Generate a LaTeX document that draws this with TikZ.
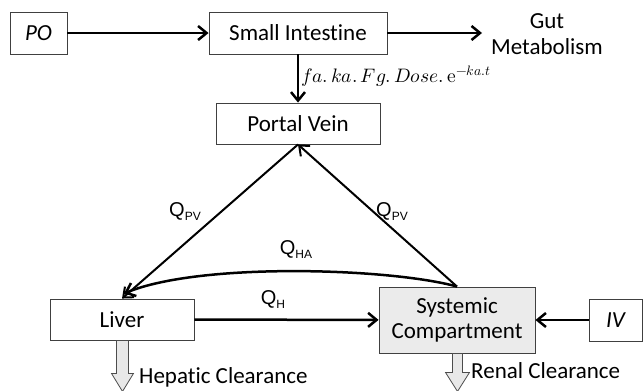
\documentclass[tikz,border=0pt]{standalone}
\usepackage{fontspec}
\usepackage{unicode-math}
\setmainfont{Carlito}[Ligatures=NoCommon]
\setmathfont{Latin Modern Math}
\newfontfamily\arialf{Liberation Sans}
\usetikzlibrary{arrows.meta,calc}
\newcommand{\qlab}[1]{{\arialf\fontsize{20}{22}\selectfont Q\raisebox{-4pt}{\fontsize{12}{12}\selectfont #1}}}
\begin{document}
\begin{tikzpicture}[x=1pt,y=-1pt,
  box/.style={draw=black!75, line width=0.9pt, fill=white, inner sep=0pt,
    minimum height=42pt, align=center, font=\fontsize{23}{25}\selectfont},
  flow/.style={line width=2.5pt, -{Straight Barb[length=8.5pt,width=14pt]}},
  diag/.style={line width=2pt, -{Straight Barb[length=8.5pt,width=14pt]}},
  plain/.style={inner sep=0pt, align=center, font=\fontsize{23}{26}\selectfont},
  qlabel/.style={inner sep=0pt},
  hollow/.style={draw=black!70, fill=black!9, line width=0.8pt, line join=miter}
]
\useasboundingbox (0,0) rectangle (643,391);

\node[box, minimum width=57pt, font=\fontsize{23}{25}\selectfont\itshape] (po) at (38.5,33) {PO};
\node[box, minimum width=178pt] (si) at (298,33) {Small Intestine};
\node[box, minimum width=164pt, minimum height=41pt] (pv) at (298,123.5) {Portal Vein};
\node[box, minimum width=144pt, minimum height=41pt] (liver) at (122,319.5) {Liver};
\node[box, minimum width=156pt, minimum height=66pt, fill=black!8, font=\fontsize{23}{25}\selectfont] (sys) at (457,320) {Systemic\\Compartment};
\node[box, minimum width=53pt, font=\fontsize{23}{25}\selectfont\itshape] (iv) at (615.5,320) {IV};

\node[plain] (gut) at (547,34) {Gut\\Metabolism};
\coordinate (gutin) at (482,33);

\draw[flow] (po) -- (si);
\draw[flow] (si) -- (gutin);
\draw[flow] (si) -- node[right, inner sep=2pt, font=\fontsize{19.5}{21}\selectfont, yshift=2pt] (dose) {$fa.\,ka.\,Fg.\,Dose.\,\symup{e}^{-ka.t}$} (pv);

\draw[diag] (pv.south) -- (liver.north);
\draw[diag] (sys.north) -- (pv.south);
\draw[flow] (sys.north) .. controls (390,268) and (200,262) .. ([xshift=2pt,yshift=5pt]liver.north);
\draw[flow] (liver) -- (sys);
\draw[flow] (iv) -- (sys);

\node[qlabel] (qpv1) at (185,212) {\qlab{PV}};
\node[qlabel] (qpv2) at (392,212) {\qlab{PV}};
\node[qlabel] (qha) at (296,250) {\qlab{HA}};
\node[qlabel] (qh) at (273,300) {\qlab{H}};

% hollow clearance arrows
\draw[hollow] ($(liver.south)+(-5.5,0)$) -- ++(0,33) -- ++(-5,0) -- ++(11,18) -- ++(11,-18) -- ++(-5,0) -- ++(0,-33) -- cycle;
\draw[hollow] ($(sys.south)+(-4.5,0)$) -- ++(0,19) -- ++(-7,0) -- ++(12,19) -- ++(12,-19) -- ++(-7,0) -- ++(0,-19) -- cycle;

\node[plain, anchor=west] (hep) at (139,377) {Hepatic Clearance};
\node[plain, anchor=west] (ren) at (471,371) {Renal Clearance};
\end{tikzpicture}
\end{document}
